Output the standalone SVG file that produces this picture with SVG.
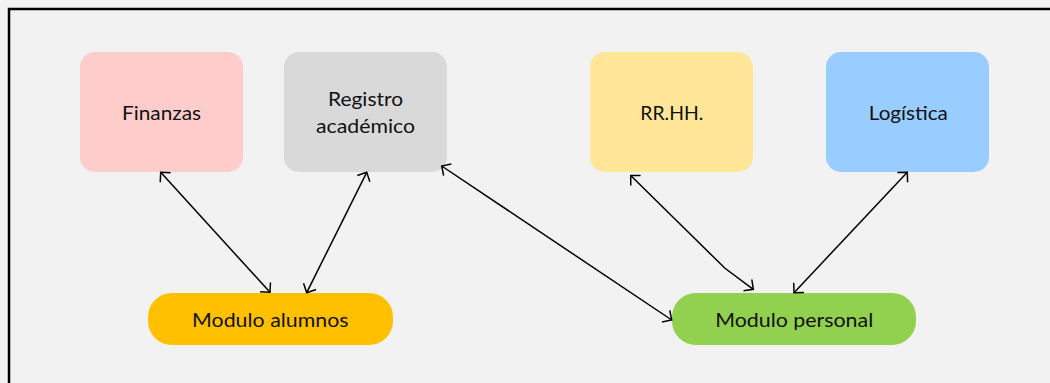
<svg xmlns="http://www.w3.org/2000/svg" width="1050" height="383" viewBox="0 0 1050 383">
  <style>
    .box { stroke: none; }
    .label { font-family: Lato, "Liberation Sans", Arial, sans-serif; font-size: 20px; fill: #111111; text-anchor: middle; }
    .link { fill: none; stroke: #000000; stroke-width: 1.5; marker-start: url(#vee); marker-end: url(#vee); }
  </style>
  <defs>
    <!-- open V arrowhead used at both ends of every connector -->
    <marker id="vee" viewBox="-9 -9 11 18" refX="0" refY="0" markerWidth="11" markerHeight="18" markerUnits="userSpaceOnUse" orient="auto-start-reverse" overflow="visible">
      <path d="M-7,-7 L0,0 L-7,7" fill="none" stroke="#000000" stroke-width="1.5" stroke-linejoin="miter"/>
    </marker>
  </defs>

  <!-- canvas and frame -->
  <rect x="0" y="0" width="1050" height="383" fill="#F2F2F2"/>
  <rect x="9" y="9" width="1060" height="400" fill="#F2F2F2" stroke="#000000" stroke-width="2.5"/>

  <g id="finanzas">
    <rect class="box" x="80" y="52" width="163" height="120" rx="15" fill="#FFCCCC"/>
    <text class="label" x="161.5" y="120" textLength="79" lengthAdjust="spacingAndGlyphs">Finanzas</text>
  </g>

  <g id="registro-academico">
    <rect class="box" x="284" y="52" width="163" height="120" rx="15" fill="#D9D9D9"/>
    <text class="label" x="365.5" y="106" textLength="75" lengthAdjust="spacingAndGlyphs">Registro</text>
    <text class="label" x="365.5" y="132.5" textLength="99" lengthAdjust="spacingAndGlyphs">académico</text>
  </g>

  <g id="rrhh">
    <rect class="box" x="590" y="52" width="163" height="120" rx="15" fill="#FFE699"/>
    <text class="label" x="671.8" y="120" textLength="63" lengthAdjust="spacingAndGlyphs">RR.HH.</text>
  </g>

  <g id="logistica">
    <rect class="box" x="826" y="52" width="163" height="120" rx="15" fill="#99CCFF"/>
    <text class="label" x="908.3" y="120" textLength="79" lengthAdjust="spacingAndGlyphs">Logística</text>
  </g>

  <g id="modulo-alumnos">
    <rect class="box" x="148" y="293" width="245" height="52" rx="24" fill="#FFC000"/>
    <text class="label" x="270.3" y="326.7" textLength="156.5" lengthAdjust="spacingAndGlyphs">Modulo alumnos</text>
  </g>

  <g id="modulo-personal">
    <rect class="box" x="672" y="293" width="244" height="52" rx="24" fill="#92D050"/>
    <text class="label" x="794.2" y="326.7" textLength="158" lengthAdjust="spacingAndGlyphs">Modulo personal</text>
  </g>

  <g id="connectors">
    <line class="link" x1="160.7" y1="172.3" x2="270" y2="292.3"/>
    <line class="link" x1="366.7" y1="172.3" x2="306.7" y2="292.7"/>
    <line class="link" x1="441.7" y1="166" x2="671.7" y2="320"/>
    <polyline class="link" points="630.7,175.5 725,268.3 753.3,289.3"/>
    <line class="link" x1="907.3" y1="172.3" x2="794" y2="292.7"/>
  </g>
</svg>
